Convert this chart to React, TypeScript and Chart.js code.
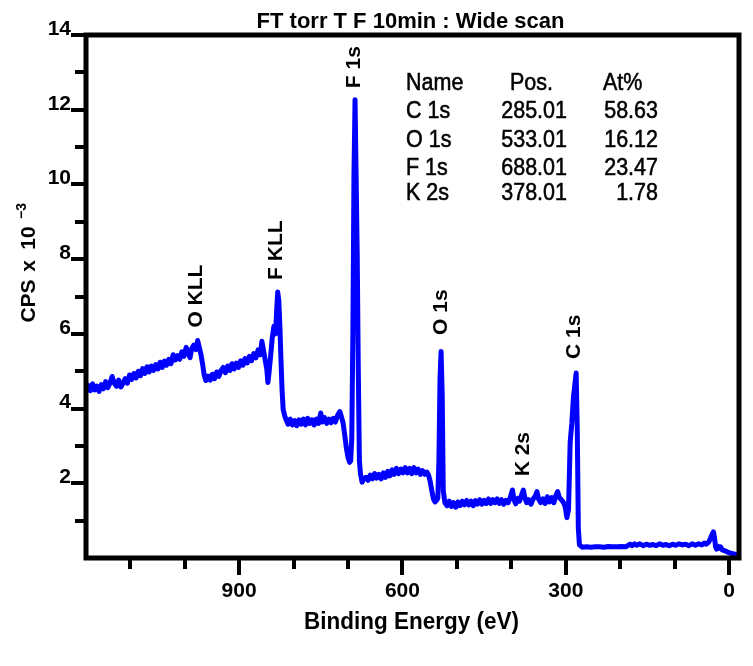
import React, { useEffect, useRef } from 'react';
import { Chart, registerables } from 'chart.js';

Chart.register(...registerables);

const chartTitle = 'FT torr T F 10min : Wide scan';
const xAxisTitle = 'Binding Energy (eV)';

// Binding energy (eV) of each sampled point of the wide scan
const bindingEnergyEV = [
  1181, 1177, 1173, 1169, 1165, 1161, 1157, 1153, 1149, 1145,
  1141, 1137, 1133, 1129, 1125, 1121, 1117, 1113, 1109, 1105,
  1101, 1097, 1093, 1089, 1085, 1081, 1077, 1073, 1069, 1065,
  1061, 1057, 1053, 1049, 1045, 1041, 1037, 1033, 1029, 1025,
  1021, 1017, 1013, 1009, 1005, 1001, 997, 993, 990, 987,
  983, 979, 976, 973, 970, 967, 964, 961, 957, 953,
  949, 945, 941, 937, 933, 929, 925, 921, 917, 913,
  909, 905, 901, 897, 893, 889, 885, 881, 877, 873,
  869, 865, 861, 858, 855, 852, 849, 847, 845, 842,
  839, 836, 833, 831, 829, 827, 825, 823, 821, 819,
  816, 813, 810, 806, 802, 798, 794, 790, 786, 782,
  778, 774, 770, 766, 762, 758, 754, 750, 747, 743,
  739, 735, 731, 727, 723, 719, 715, 712, 709, 706,
  703, 700, 697, 695, 693, 691, 689, 687, 685, 683,
  681, 679, 677, 674, 671, 667, 663, 659, 655, 651,
  647, 643, 639, 635, 631, 627, 623, 619, 615, 611,
  607, 603, 599, 595, 591, 587, 583, 579, 575, 571,
  567, 563, 559, 555, 552, 549, 546, 543, 540, 537,
  535, 533, 531, 529, 527, 525, 522, 518, 514, 510,
  506, 502, 498, 494, 490, 486, 482, 478, 474, 470,
  466, 462, 458, 454, 450, 446, 442, 438, 434, 430,
  426, 422, 418, 414, 410, 406, 402, 398, 395, 392,
  388, 385, 381, 378, 375, 372, 368, 364, 360, 356,
  353, 350, 346, 342, 338, 334, 330, 326, 322, 318,
  315, 312, 308, 304, 301, 298, 295, 292, 289, 286,
  283, 281, 279, 277, 275, 270, 262, 254, 246, 238,
  230, 222, 214, 206, 198, 190, 182, 178, 174, 170,
  164, 158, 152, 146, 140, 134, 128, 122, 116, 110,
  104, 98, 92, 86, 80, 74, 68, 62, 56, 50,
  46, 42, 38, 35, 32, 29, 27, 25, 23, 21,
  19, 16, 13, 10, 7, 3, -1, -5, -10, -15,
];

// Counts per second x 10^-3 at each binding energy above
const countsK = [
  4.45, 4.62, 4.48, 4.66, 4.50, 4.60, 4.46, 4.64, 4.53, 4.72,
  4.56, 4.68, 4.86, 4.68, 4.60, 4.76, 4.58, 4.68, 4.80, 4.68,
  4.90, 4.78, 4.94, 4.82, 5.00, 4.88, 5.07, 4.94, 5.12, 4.98,
  5.14, 5.02, 5.18, 5.06, 5.24, 5.10, 5.27, 5.16, 5.32, 5.20,
  5.44, 5.30, 5.42, 5.32, 5.52, 5.40, 5.64, 5.48, 5.36, 5.60,
  5.70, 5.58, 5.82, 5.64, 5.45, 5.20, 4.90, 4.75, 4.87, 4.76,
  4.92, 4.80, 4.98, 4.86, 5.02, 5.10, 4.96, 5.14, 5.02, 5.20,
  5.06, 5.22, 5.10, 5.28, 5.16, 5.34, 5.22, 5.40, 5.28, 5.47,
  5.36, 5.57, 5.44, 5.80, 5.55, 5.30, 5.05, 4.70, 4.95, 5.40,
  5.90, 6.20, 6.00, 6.60, 7.12, 6.90, 6.20, 5.30, 4.50, 3.98,
  3.80, 3.68, 3.58, 3.72, 3.56, 3.68, 3.54, 3.70, 3.58, 3.72,
  3.56, 3.74, 3.60, 3.70, 3.56, 3.72, 3.60, 3.88, 3.64, 3.76,
  3.60, 3.72, 3.62, 3.74, 3.64, 3.82, 3.92, 3.78, 3.62, 3.30,
  2.95, 2.70, 2.56, 2.60, 3.20, 6.00, 10.20, 12.27, 10.20, 8.10,
  5.00, 2.60, 2.25, 2.03, 2.12, 2.16, 2.08, 2.22, 2.12, 2.26,
  2.14, 2.24, 2.12, 2.28, 2.16, 2.32, 2.20, 2.36, 2.24, 2.40,
  2.26, 2.38, 2.28, 2.42, 2.28, 2.40, 2.26, 2.42, 2.28, 2.38,
  2.24, 2.34, 2.24, 2.30, 2.22, 2.05, 1.80, 1.58, 1.50, 1.55,
  1.60, 2.60, 4.80, 5.53, 4.40, 1.80, 1.48, 1.40, 1.52, 1.38,
  1.48, 1.36, 1.50, 1.40, 1.52, 1.42, 1.54, 1.42, 1.52, 1.40,
  1.54, 1.44, 1.56, 1.44, 1.54, 1.46, 1.58, 1.46, 1.56, 1.48,
  1.58, 1.46, 1.56, 1.44, 1.54, 1.48, 1.62, 1.82, 1.55, 1.45,
  1.60, 1.52, 1.70, 1.82, 1.60, 1.48, 1.56, 1.44, 1.58, 1.66,
  1.78, 1.58, 1.48, 1.58, 1.46, 1.64, 1.50, 1.62, 1.48, 1.68,
  1.78, 1.62, 1.56, 1.48, 1.36, 1.08, 1.30, 3.10, 3.60, 4.30,
  4.70, 4.95, 3.50, 0.80, 0.35, 0.29, 0.30, 0.29, 0.30, 0.30,
  0.29, 0.31, 0.30, 0.30, 0.31, 0.30, 0.37, 0.33, 0.38, 0.34,
  0.38, 0.33, 0.37, 0.34, 0.36, 0.33, 0.38, 0.34, 0.36, 0.33,
  0.37, 0.34, 0.38, 0.35, 0.37, 0.33, 0.38, 0.34, 0.38, 0.35,
  0.40, 0.37, 0.42, 0.50, 0.62, 0.70, 0.55, 0.30, 0.24, 0.32,
  0.26, 0.30, 0.22, 0.20, 0.19, 0.16, 0.14, 0.12, 0.10, 0.08,
];

const xTickValues = [0, 100, 200, 300, 400, 500, 600, 700, 800, 900, 1000, 1100];
const xMajorTicks = [0, 300, 600, 900];
const xMinorTicks = [100, 200, 400, 500, 700, 800, 1000, 1100];
const yMajorTicks = [2, 4, 6, 8, 10, 12, 14];
const yMinorTicks = [1, 3, 5, 7, 9, 11, 13];

// Peak annotations: label, binding energy (eV) and level (CPS x 10^-3) of label centre
const peakLabels = ['O KLL', 'F KLL', 'F 1s', 'O 1s', 'K 2s', 'C 1s'];
const peakLabelEnergy = [979, 832, 689, 529, 378, 285];
const peakLabelLevel = [7.01, 8.24, 13.14, 6.58, 2.78, 5.92];

// Quantification table
const tableHeader = ['Name', 'Pos.', 'At%'];
const tableNames = ['C 1s', 'O 1s', 'F 1s', 'K 2s'];
const tablePositions = ['285.01', '533.01', '688.01', '378.01'];
const tableAtomic = ['58.63', '16.12', '23.47', '1.78'];

const FONT = "'Liberation Sans', Arial, sans-serif";

const decorPlugin = {
  id: 'decor',
  afterDraw(chart: any) {
    const { ctx, chartArea: a, scales } = chart;
    const xs = scales.x;
    const ys = scales.y;
    ctx.save();
    ctx.fillStyle = '#000';
    ctx.strokeStyle = '#000';

    // minor ticks
    ctx.lineWidth = 4;
    ctx.lineCap = 'butt';
    xMinorTicks.forEach((v) => {
      const px = Math.round(xs.getPixelForValue(v));
      ctx.beginPath();
      ctx.moveTo(px, a.bottom);
      ctx.lineTo(px, a.bottom + 11);
      ctx.stroke();
    });
    yMinorTicks.forEach((v) => {
      const py = Math.round(ys.getPixelForValue(v));
      ctx.beginPath();
      ctx.moveTo(a.left, py);
      ctx.lineTo(a.left - 11, py);
      ctx.stroke();
    });

    // frame
    ctx.lineWidth = 5;
    ctx.lineJoin = 'miter';
    ctx.strokeRect(a.left, a.top, a.right - a.left, a.bottom - a.top);

    // title
    ctx.font = `bold 22px ${FONT}`;
    ctx.textAlign = 'center';
    ctx.textBaseline = 'alphabetic';
    ctx.fillText(chartTitle, (a.left + a.right) / 2 - 2, 28);

    // x-axis title
    ctx.save();
    ctx.translate((a.left + a.right) / 2 - 1, 629);
    ctx.scale(1, 1.1);
    ctx.font = `bold 22.5px ${FONT}`;
    ctx.fillText(xAxisTitle, 0, 0);
    ctx.restore();

    // y-axis title (rotated, with superscript)
    ctx.save();
    ctx.translate(35, 0);
    ctx.rotate(-Math.PI / 2);
    ctx.textAlign = 'center';
    ctx.textBaseline = 'alphabetic';
    ctx.font = `bold 21px ${FONT}`;
    ctx.fillText('CPS', -301, 0);
    ctx.fillText('x', -266, 0);
    ctx.fillText('10', -238, 0);
    ctx.font = `bold 14px ${FONT}`;
    ctx.fillText('\u22123', -211, -9);
    ctx.restore();

    // peak labels
    ctx.font = `bold 21px ${FONT}`;
    peakLabels.forEach((t, i) => {
      const px = xs.getPixelForValue(peakLabelEnergy[i]);
      const py = ys.getPixelForValue(peakLabelLevel[i]);
      ctx.save();
      ctx.translate(px, py);
      ctx.rotate(-Math.PI / 2);
      ctx.textAlign = 'center';
      ctx.textBaseline = 'middle';
      ctx.fillText(t, 0, 0);
      ctx.restore();
    });

    // table
    const rowBase = [90, 118, 147, 175, 200];
    const drawT = (t: string, x: number, y: number, align: CanvasTextAlign) => {
      ctx.save();
      ctx.translate(x, y);
      ctx.scale(1, 1.15);
      ctx.font = `21.5px ${FONT}`;
      ctx.textAlign = align;
      ctx.textBaseline = 'alphabetic';
      ctx.lineWidth = 0.5;
      ctx.fillText(t, 0, 0);
      ctx.strokeText(t, 0, 0);
      ctx.restore();
    };
    drawT(tableHeader[0], 406, rowBase[0], 'left');
    drawT(tableHeader[1], 510, rowBase[0], 'left');
    drawT(tableHeader[2], 603, rowBase[0], 'left');
    tableNames.forEach((n, i) => {
      drawT(n, 406, rowBase[i + 1], 'left');
      drawT(tablePositions[i], 567, rowBase[i + 1], 'right');
      drawT(tableAtomic[i], 658, rowBase[i + 1], 'right');
    });

    ctx.restore();
  },
};

export default function App() {
  const ref = useRef<HTMLCanvasElement>(null);
  useEffect(() => {
    const canvas = ref.current;
    if (!canvas) return;
    const tickFont = { family: FONT, size: 21, weight: 'bold' as const };
    const chart = new Chart(canvas, {
      type: 'line',
      data: {
        datasets: [
          {
            data: bindingEnergyEV.map((x, i) => ({ x, y: countsK[i] })),
            borderColor: '#0000ff',
            borderWidth: 5,
            pointRadius: 0,
            fill: false,
            tension: 0,
            borderJoinStyle: 'round',
          },
        ],
      },
      options: {
        responsive: false,
        animation: false,
        devicePixelRatio: 1,
        layout: { padding: { left: 0, right: 14, top: 35, bottom: 0 } },
        plugins: {
          legend: { display: false },
          title: { display: false },
          tooltip: { enabled: false },
        },
        scales: {
          x: {
            type: 'linear',
            reverse: true,
            min: -18,
            max: 1181,
            afterBuildTicks: (s: any) => {
              s.ticks = xTickValues.map((v) => ({ value: v }));
            },
            afterFit: (s: any) => {
              s.height = 108;
            },
            ticks: {
              autoSkip: false,
              maxRotation: 0,
              padding: 4,
              color: '#000',
              font: tickFont,
              callback: (v: any) => (xMajorTicks.includes(Number(v)) ? String(v) : ''),
            },
            grid: {
              drawOnChartArea: false,
              drawTicks: true,
              tickLength: 17,
              lineWidth: 4,
              color: (c: any) =>
                c.tick && xMajorTicks.includes(c.tick.value) ? '#000' : 'rgba(0,0,0,0)',
            },
            border: { display: false },
          },
          y: {
            type: 'linear',
            min: 0,
            max: 14,
            afterFit: (s: any) => {
              s.width = 86;
            },
            ticks: {
              stepSize: 1,
              autoSkip: false,
              padding: 0,
              labelOffset: -6,
              color: '#000',
              font: tickFont,
              callback: (v: any) => (yMajorTicks.includes(Number(v)) ? String(v) : ''),
            },
            grid: {
              drawOnChartArea: false,
              drawTicks: true,
              tickLength: 15,
              lineWidth: 4,
              color: (c: any) =>
                c.tick && yMajorTicks.includes(c.tick.value) ? '#000' : 'rgba(0,0,0,0)',
            },
            border: { display: false },
          },
        },
      },
      plugins: [decorPlugin],
    });
    return () => chart.destroy();
  }, []);
  return (
    <div
      style={{
        position: 'absolute',
        left: 0,
        top: 0,
        width: 753,
        height: 666,
        background: '#fff',
      }}
    >
      <canvas ref={ref} width={753} height={666} style={{ display: 'block' }} />
    </div>
  );
}
